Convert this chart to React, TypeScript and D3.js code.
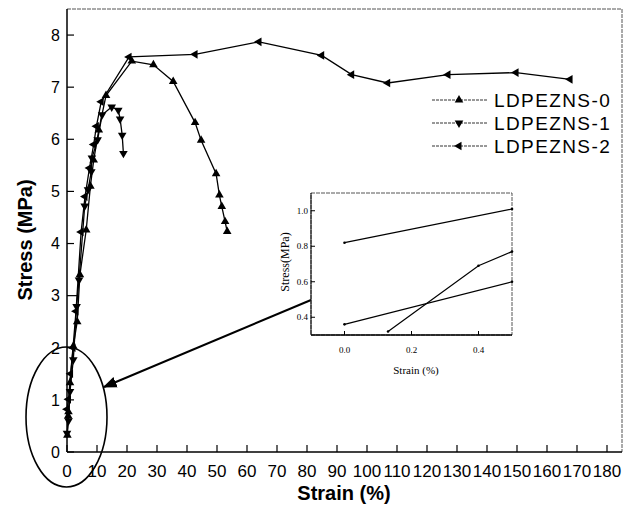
import * as d3 from "d3";

// stress-strain data: [strain %, stress MPa]
const series0 = [
  [0.13, 0.32], [0.4, 0.69], [0.5, 0.77], [1.0, 1.33], [2.1, 2.03], [3.4, 2.5],
  [4.3, 3.4], [6.4, 4.26], [7.8, 5.1], [8.9, 5.6], [10.6, 6.18], [13, 6.84],
  [21.6, 7.5], [28.8, 7.43], [35.4, 7.11], [42.7, 6.32], [44.7, 5.98],
  [49.7, 5.34], [50.8, 4.93], [51.6, 4.71], [52.7, 4.42], [53.4, 4.23],
];
const series1 = [
  [0, 0.36], [0.5, 0.6], [1.0, 1.16], [2.1, 1.77], [3.2, 2.79], [4.0, 3.3],
  [5.9, 4.72], [7.0, 5.03], [8.1, 5.38], [8.3, 5.64], [10.2, 5.99], [11.7, 6.47],
  [14.9, 6.62], [17.1, 6.56], [17.7, 6.39], [18.4, 6.08], [18.8, 5.73],
];
const series2 = [
  [0, 0.82], [0.5, 1.01], [1.2, 1.5], [2.0, 2.0], [3.0, 2.7], [4.7, 4.22],
  [6.0, 4.9], [7.5, 5.45], [8.9, 5.9], [9.8, 6.25], [11.4, 6.72], [20.7, 7.58],
  [42.7, 7.63], [64, 7.87], [84.9, 7.61], [94.9, 7.24], [106.9, 7.08],
  [127, 7.24], [149.7, 7.28], [167.7, 7.15],
];
const seriesNames = ["LDPEZNS-0", "LDPEZNS-1", "LDPEZNS-2"];
const seriesData = [series0, series1, series2];
const markerRotation = [0, 180, -90];

const xTicks = d3.range(0, 181, 10);
const yTicks = d3.range(0, 9, 1);
const insetXTicks = ["0.0", "0.2", "0.4"];
const insetYTicks = ["0.4", "0.6", "0.8", "1.0"];

const App = () => {
  const width = 629,
    height = 517;

  const x = d3.scaleLinear([0, 185], [67, 622]);
  const y = d3.scaleLinear([0, 8.5], [452, 9]);

  // inset (zoom of the low-strain region)
  const ix = d3.scaleLinear([-0.1, 0.5], [311, 512]);
  const iy = d3.scaleLinear([0.3, 1.1], [335, 193]);

  const line = d3.line((d) => x(d[0]), (d) => y(d[1]));
  const iline = d3.line((d) => ix(d[0]), (d) => iy(d[1]));
  const tri = d3.symbol(d3.symbolTriangle, 32)();

  const sans = "Liberation Sans, Arial, sans-serif";
  const serif = "Liberation Serif, Times New Roman, serif";

  return (
    <svg
      width={width}
      height={height}
      style={{ position: "absolute", left: 0, top: 0, background: "white" }}
    >
      {/* frame */}
      <line x1={67} x2={622} y1={9} y2={9} stroke="#555" strokeDasharray="4 1" />
      <line x1={622} x2={622} y1={9} y2={452} stroke="#555" strokeDasharray="4 1" />
      <line x1={67} x2={67} y1={9} y2={452} stroke="black" strokeWidth={1.5} />
      <line x1={67} x2={622} y1={452} y2={452} stroke="black" strokeWidth={1.5} />

      {/* x axis */}
      {xTicks.map((t) => (
        <g key={"x" + t}>
          <line x1={x(t)} x2={x(t)} y1={452} y2={445} stroke="black" strokeWidth={1.2} />
          <text x={x(t)} y={477} textAnchor="middle" fontFamily={sans} fontSize={17}>
            {t}
          </text>
        </g>
      ))}
      {/* y axis */}
      {yTicks.map((t) => (
        <g key={"y" + t}>
          <line x1={67} x2={t === 3 ? 78 : 74} y1={y(t)} y2={y(t)} stroke="black" strokeWidth={1.2} />
          <text
            x={60}
            y={y(t)}
            dy="0.36em"
            textAnchor="end"
            fontFamily={sans}
            fontSize={16}
          >
            {t}
          </text>
        </g>
      ))}
      <text x={344} y={500} textAnchor="middle" fontFamily={sans} fontWeight="bold" fontSize={20}>
        Strain (%)
      </text>
      <text
        transform="translate(32,240) rotate(-90)"
        textAnchor="middle"
        fontFamily={sans}
        fontWeight="bold"
        fontSize={20}
      >
        Stress (MPa)
      </text>

      {/* series */}
      {seriesData.map((s, i) => (
        <g key={"s" + i}>
          <path d={line(s)} fill="none" stroke="black" strokeWidth={1.3} />
          {s.map((d, j) => (
            <path
              key={j}
              d={tri}
              transform={`translate(${x(d[0])},${y(d[1])}) rotate(${markerRotation[i]})`}
              fill="black"
            />
          ))}
        </g>
      ))}

      {/* legend */}
      {seriesNames.map((name, i) => {
        const ly = 100 + i * 23;
        return (
          <g key={name}>
            <line x1={432} x2={488} y1={ly} y2={ly} stroke="#333" strokeWidth={1} strokeDasharray="3 1" />
            <path d={tri} transform={`translate(459,${ly}) rotate(${markerRotation[i]})`} fill="black" />
            <text
              x={494}
              y={ly}
              dy="0.36em"
              fontFamily={sans}
              fontSize={19}
              letterSpacing={1.4}
            >
              {name}
            </text>
          </g>
        );
      })}

      {/* ellipse + arrow */}
      <ellipse cx={66.5} cy={417} rx={40.5} ry={70} fill="none" stroke="black" strokeWidth={1.6} />
      <defs>
        <marker id="arr" viewBox="0 0 10 10" refX={9} refY={5} markerWidth={7} markerHeight={7} orient="auto">
          <path d="M0,1 L10,5 L0,9 Z" fill="black" />
        </marker>
      </defs>
      <line x1={311} y1={300} x2={104} y2={387} stroke="black" strokeWidth={2} markerEnd="url(#arr)" />

      {/* inset */}
      <rect x={311} y={193} width={201} height={142} fill="white" stroke="#555" strokeDasharray="4 1" />
      <line x1={311} x2={512} y1={335} y2={335} stroke="black" strokeWidth={1.3} />
      <line x1={311} x2={311} y1={193} y2={335} stroke="black" strokeWidth={1} />
      {insetXTicks.map((t) => (
        <g key={"ix" + t}>
          <line x1={ix(+t)} x2={ix(+t)} y1={335} y2={331} stroke="black" />
          <text x={ix(+t)} y={353} textAnchor="middle" fontFamily={serif} fontSize={9}>
            {t}
          </text>
        </g>
      ))}
      {insetYTicks.map((t) => (
        <g key={"iy" + t}>
          <line x1={311} x2={315} y1={iy(+t)} y2={iy(+t)} stroke="black" />
          <text x={308} y={iy(+t)} dy="0.35em" textAnchor="end" fontFamily={serif} fontSize={9}>
            {t}
          </text>
        </g>
      ))}
      <text x={416} y={374} textAnchor="middle" fontFamily={serif} fontSize={11}>
        Strain (%)
      </text>
      <text
        transform="translate(289,262) rotate(-90)"
        textAnchor="middle"
        fontFamily={serif}
        fontSize={12}
      >
        Stress(MPa)
      </text>
      {seriesData.map((s, i) => {
        const pts = s.filter((d) => d[0] <= 0.5);
        return (
          <g key={"is" + i}>
            <path d={iline(pts)} fill="none" stroke="black" strokeWidth={1.2} />
            {pts.map((d, j) => (
              <circle key={j} cx={ix(d[0])} cy={iy(d[1])} r={1.3} fill="black" />
            ))}
          </g>
        );
      })}
    </svg>
  );
};

export default App;
